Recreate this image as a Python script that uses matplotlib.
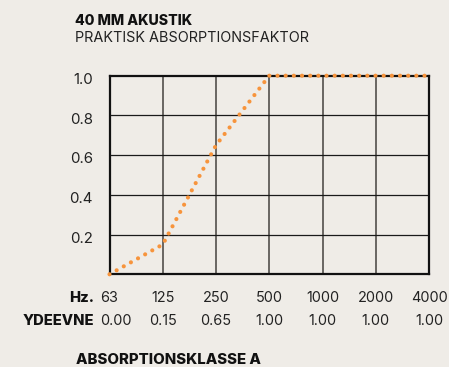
import matplotlib
matplotlib.use("Agg")
import matplotlib.pyplot as plt
import matplotlib.transforms as mtransforms

# absorption data for 40 mm panel
freqs = ["63", "125", "250", "500", "1000", "2000", "4000"]
ydeevne = [0.00, 0.15, 0.65, 1.00, 1.00, 1.00, 1.00]
yticks = [0.2, 0.4, 0.6, 0.8, 1.0]

BG = "#efece7"
ORANGE = "#f7943c"
W, H = 449, 367
plt.rcParams["font.family"] = ["Inter", "DejaVu Sans"]


def fx(px):
    return px / W


def fy(py):
    return 1 - py / H


fig = plt.figure(figsize=(W / 100, H / 100), dpi=100, facecolor=BG)
ax = fig.add_axes([fx(109.5), fy(274.3), fx(429) - fx(109.5), fy(75.7) - fy(274.3)])
ax.set_facecolor(BG)

xs = list(range(len(freqs)))
ax.set_xlim(0, len(freqs) - 1)
ax.set_ylim(0, 1.0)

# grid: grey verticals, black horizontals
for x in xs[1:-1]:
    ax.axvline(x, color="#5e5b58", lw=1.3, zorder=1)
for y in yticks[:-1]:
    ax.axhline(y, color="#1a1a1a", lw=0.9, zorder=1)
for s in ax.spines.values():
    s.set_linewidth(1.6)
    s.set_color("#111111")

ax.plot(xs, ydeevne, color=ORANGE, lw=3.0, linestyle=(0, (0.01, 1.95)),
        dash_capstyle="round", clip_on=False, zorder=5)

ax.set_xticks([])
ax.set_yticks(yticks)
ax.set_yticklabels([f"{v:.1f}" for v in yticks], fontsize=10.8, color="#222222")
ax.tick_params(axis="y", length=0, pad=12)
# nudge labels a touch below their lines
off = mtransforms.ScaledTranslation(0, -2 / 72, fig.dpi_scale_trans)
for lbl in ax.get_yticklabels():
    lbl.set_transform(lbl.get_transform() + off)

# header
fig.text(fx(75), fy(25), "40 MM AKUSTIK", fontsize=10.2, fontweight="heavy",
         color="#111111", va="baseline")
fig.text(fx(75), fy(42), "PRAKTISK ABSORPTIONSFAKTOR", fontsize=10.4,
         color="#222222", va="baseline")

# value table under the chart
tr = mtransforms.blended_transform_factory(ax.transData, fig.transFigure)
rows = [("Hz.", freqs, 302), ("YDEEVNE", [f"{v:.2f}" for v in ydeevne], 325)]
for head, vals, base in rows:
    ax.text(-0.29, fy(base), head, transform=tr, ha="right", va="baseline",
            fontsize=10.6, fontweight="heavy", color="#111111")
    for i, v in enumerate(vals):
        if i == 0:
            ax.text(-0.17, fy(base), v, transform=tr, ha="left", va="baseline",
                    fontsize=10.4, color="#222222")
        else:
            ax.text(i, fy(base), v, transform=tr, ha="center", va="baseline",
                    fontsize=10.4, color="#222222")

fig.text(fx(76), fy(364), "ABSORPTIONSKLASSE A", fontsize=10.8, fontweight="heavy",
         color="#111111", va="baseline")

fig.savefig("out.png", dpi=100, facecolor=BG)
